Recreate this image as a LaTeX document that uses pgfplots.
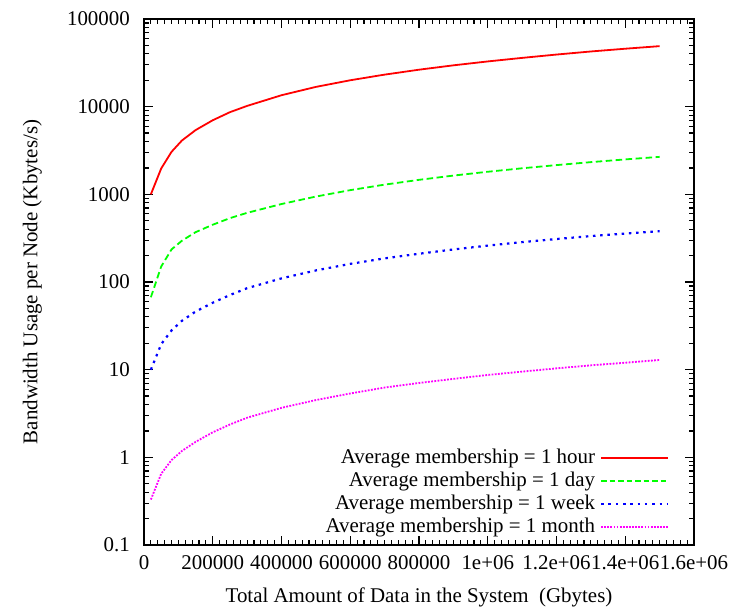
\documentclass[border=0pt]{standalone}
\usepackage{fontspec}
\setmainfont{Liberation Serif}
\usepackage{pgfplots}
\usepackage{pgfplotstable}
\pgfplotsset{compat=1.18}
\definecolor{gpred}{RGB}{255,0,0}
\definecolor{gpgreen}{RGB}{0,255,0}
\definecolor{gpblue}{RGB}{0,0,255}
\definecolor{gpmag}{RGB}{255,0,255}
\pgfplotstableread{
x        hour   day    week   month
20000    1000   67     10     0.33
50000    1970   150    19.5   0.65
80000    3050   235    28     0.93
110000   4100   295    36     1.18
150000   5400   370    46     1.50
200000   7000   450    58     1.93
250000   8650   535    71     2.37
300000   10200  615    85     2.83
400000   13500  775    110    3.67
500000   16800  943    135.5  4.50
600000   20000  1116   161    5.35
700000   23200  1290   186    6.25
800000   26400  1463   210    7.05
900000   29600  1636   235    7.85
1000000  32800  1809   260    8.70
1100000  36000  1982   285    9.50
1200000  39300  2155   309    10.35
1300000  42600  2329   334    11.20
1400000  45800  2502   357    12.00
1500000  49000  2675   380    12.90
}\datatable
\newcommand{\ff}{\fontsize{21}{25}\selectfont}
\begin{document}
\ff
\begin{tikzpicture}[x=1bp,y=1bp]
\useasboundingbox (0,0) rectangle (731,608);
\begin{axis}[
  at={(144bp,63bp)}, anchor=south west,
  scale only axis, width=550bp, height=526bp,
  xmin=0, xmax=1600000,
  ymode=log, ymin=0.1, ymax=100000,
  axis line style={line width=1.8bp},
  every tick/.style={black, line width=1.2bp},
  tick align=inside,
  major tick length=9bp, minor tick length=5bp,
  xtick={0,200000,400000,600000,800000,1000000,1200000,1400000,1600000},
  xticklabels={0,200000,400000,600000,800000,1e+06,1.2e+06,1.4e+06,1.6e+06},
  minor x tick num=9,
  scaled x ticks=false,
  ytick={0.1,1,10,100,1000,10000,100000},
  yticklabels={0.1,1,10,100,1000,10000,100000},
  tick label style={font=\ff},
  xticklabel style={yshift=-3bp},
  yticklabel style={xshift=-7bp},
  label style={font=\ff},
  xlabel={Total Amount of Data in the System \ (Gbytes)},
  ylabel={Bandwidth Usage per Node (Kbytes/s)},
  xlabel style={yshift=-4bp},
  ylabel style={yshift=11bp},
  legend plot pos=right,
  legend cell align=right,
  legend image code/.code={\draw[#1] plot coordinates {(0bp,0bp) (33bp,0bp) (67bp,0bp)};},
  legend style={draw=none, fill=none, font=\ff, inner sep=0pt, outer sep=0pt,
    at={(rel axis cs:0.955,0.012)}, anchor=south east, row sep=0pt, column sep=0pt,
    nodes={text height=14.5bp, text depth=4.5bp, inner ysep=2bp, inner xsep=5bp}},
]
\addplot[gpred, line width=1.8bp, no markers, forget plot] table[x=x, y=hour] {\datatable};
\addplot[gpgreen, line width=1.8bp, no markers, dash pattern=on 6.5bp off 3.5bp, forget plot] table[x=x, y=day] {\datatable};
\addplot[gpblue, line width=2.2bp, no markers, dash pattern=on 2.5bp off 4.7bp, forget plot] table[x=x, y=week] {\datatable};
\addplot[gpmag, line width=1.8bp, no markers, dash pattern=on 1.8bp off 1.4bp, forget plot] table[x=x, y=month] {\datatable};
\addlegendimage{color=gpred, line width=1.8bp}
\addlegendentry{Average membership = 1 hour}
\addlegendimage{color=gpgreen, line width=1.8bp, dash pattern=on 5.5bp off 3bp}
\addlegendentry{Average membership = 1 day}
\addlegendimage{color=gpblue, line width=2.2bp, dash pattern=on 2.5bp off 4.8bp}
\addlegendentry{Average membership = 1 week}
\addlegendimage{color=gpmag, line width=1.8bp, dash pattern=on 1.8bp off 1.3bp}
\addlegendentry{Average membership = 1 month}
\end{axis}
\end{tikzpicture}
\end{document}
